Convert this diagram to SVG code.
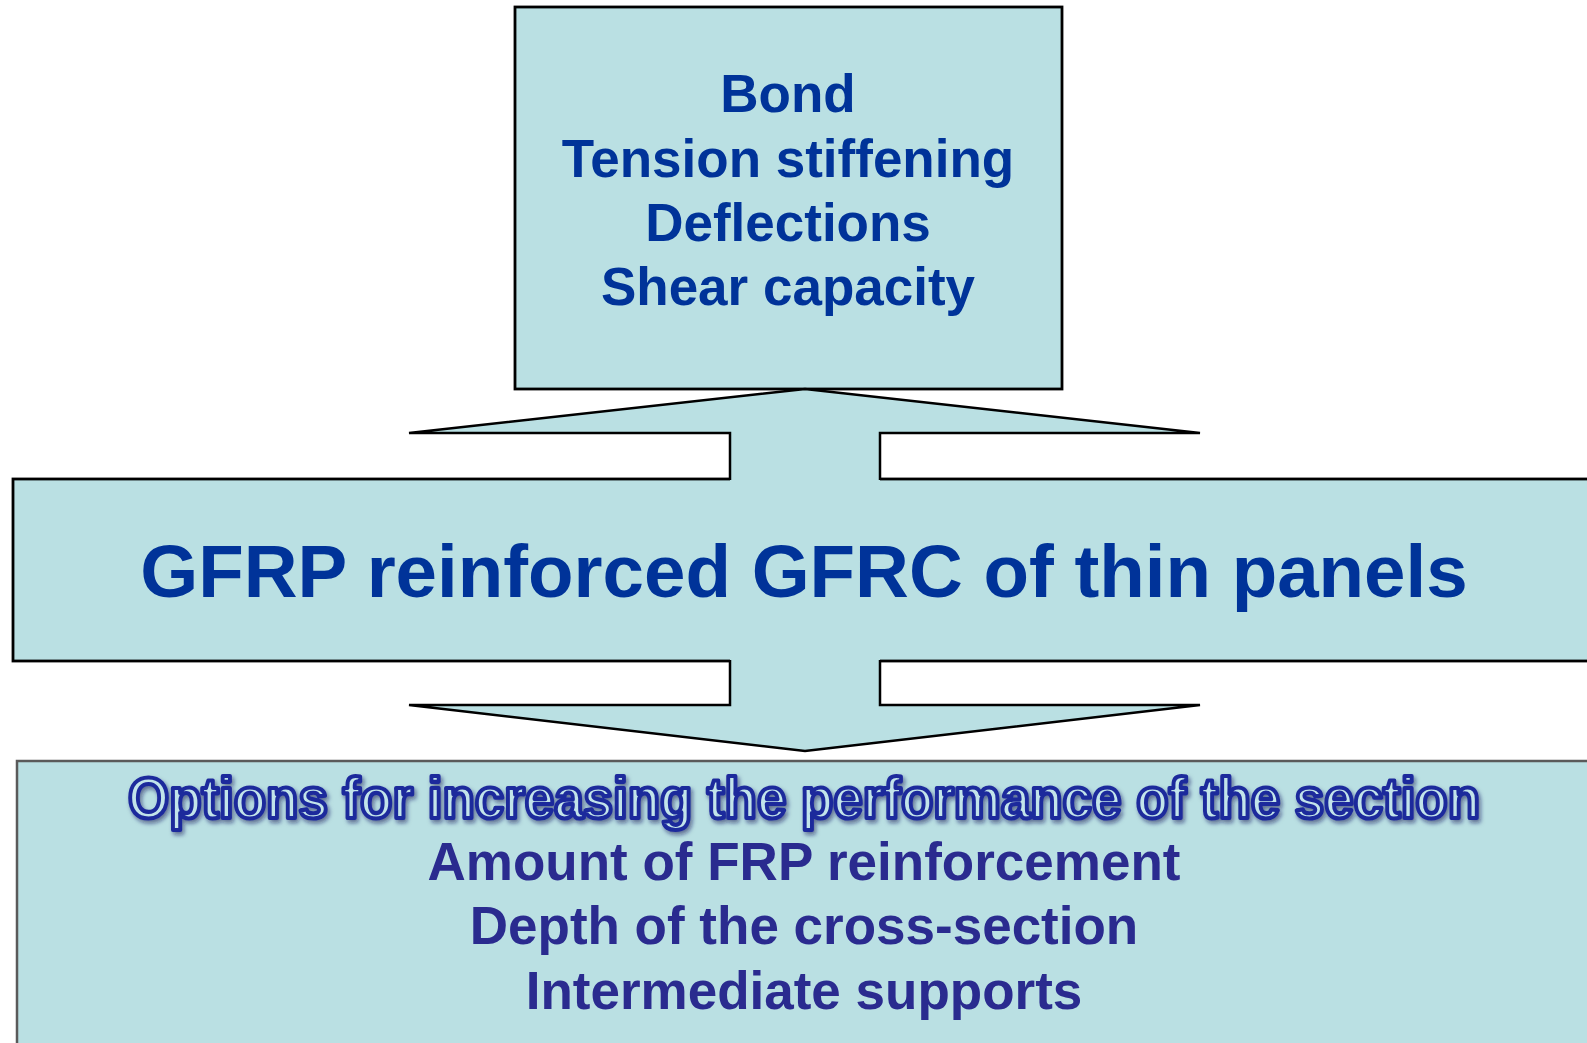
<svg xmlns="http://www.w3.org/2000/svg" width="1587" height="1043" viewBox="0 0 1587 1043">
  <style>
    .box { fill: #bae0e3; stroke: #000; stroke-width: 2.8; }
    .soft { fill: #bae0e3; stroke: #5a5a5a; stroke-width: 2.5; }
    .fill { fill: #bae0e3; stroke: none; }
    .edge { fill: none; stroke: #000; stroke-width: 2.5; stroke-linejoin: miter; }
    .t { font-family: "Liberation Sans", Arial, sans-serif; font-weight: bold; text-anchor: middle; }
    .top { font-size: 53px; fill: #003399; }
    .main { font-size: 74.5px; fill: #003399; }
    .opt { font-size: 57px; fill: #c2e4ea; stroke: #1f2a9c; stroke-width: 4.2; stroke-linejoin: round; }
    .low { font-size: 53px; fill: #2a2b8f; }
  </style>
  <defs>
    <filter id="shadow" x="-5%" y="-30%" width="110%" height="160%">
      <feDropShadow dx="2" dy="3" stdDeviation="2" flood-color="#0a0a55" flood-opacity="0.55"/>
    </filter>
  </defs>

  <rect width="1587" height="1043" fill="#fff"/>

  <!-- top node: topics -->
  <g id="topics">
    <rect class="box" x="515" y="7" width="547" height="382"/>
    <text class="t top" x="788" y="112">Bond</text>
    <text class="t top" x="788" y="177">Tension stiffening</text>
    <text class="t top" x="788" y="241">Deflections</text>
    <text class="t top" x="788" y="305">Shear capacity</text>
  </g>

  <!-- central band -->
  <g id="subject">
    <rect class="box" x="13" y="479" width="1590" height="182"/>
  </g>

  <!-- bottom node: options -->
  <g id="options">
    <rect class="soft" x="17" y="761" width="1590" height="300"/>
    <text class="t opt" x="804" y="818" textLength="1352" lengthAdjust="spacingAndGlyphs" filter="url(#shadow)">Options for increasing the performance of the section</text>
    <text class="t low" x="804" y="880">Amount of FRP reinforcement</text>
    <text class="t low" x="804" y="944">Depth of the cross-section</text>
    <text class="t low" x="804" y="1009">Intermediate supports</text>
  </g>

  <!-- block arrows joining the band to the boxes -->
  <g id="connectors">
    <path class="fill" d="M805,389 L1200,433 L880,433 L880,482 L730,482 L730,433 L409,433 Z"/>
    <polyline class="edge" points="730,480 730,433 409,433 805,389 1200,433 880,433 880,480"/>
    <path class="fill" d="M730,658 L880,658 L880,705 L1200,705 L805,751 L409,705 L730,705 Z"/>
    <polyline class="edge" points="730,660 730,705 409,705 805,751 1200,705 880,705 880,660"/>
  </g>

  <!-- band title drawn above the arrow fills -->
  <g id="subject-label">
    <text class="t main" x="804" y="597">GFRP reinforced GFRC of thin panels</text>
  </g>
</svg>
